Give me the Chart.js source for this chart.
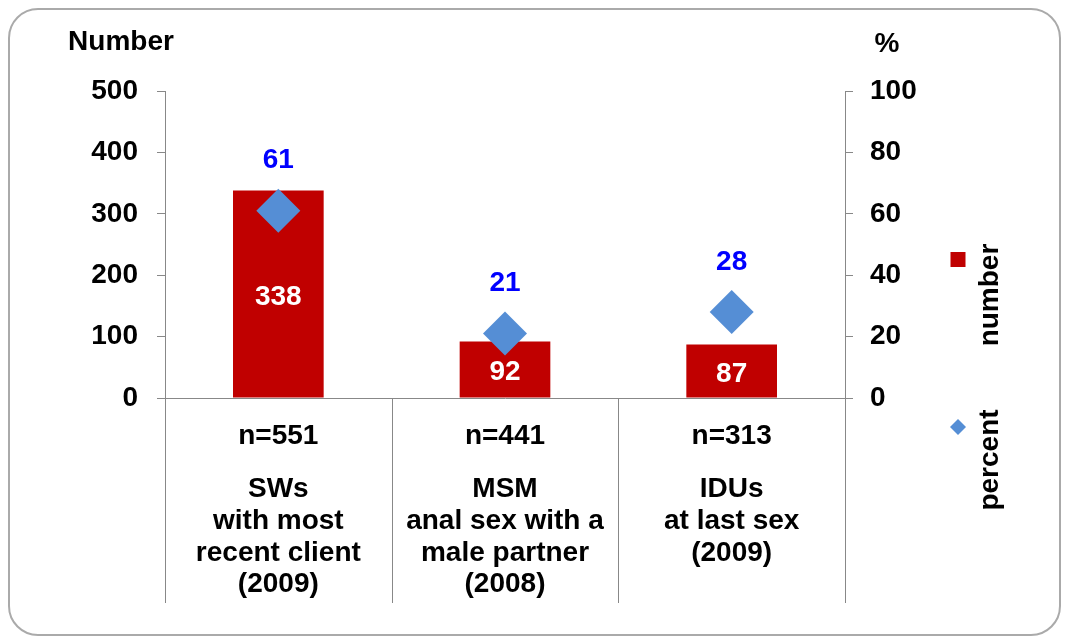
<!DOCTYPE html>
<html lang="en">
<head>
    <meta charset="UTF-8">
    <title>Number and percent</title>
    <script src="https://cdn.jsdelivr.net/npm/chart.js"></script>
    <style>
        body { margin: 0; background: #fff; }
        #wrap { position: relative; width: 1067px; height: 637px; }
        #frame {
            position: absolute; left: 8px; top: 8px; width: 1049px; height: 624px;
            border: 2px solid #aaaaaa; border-radius: 30px; pointer-events: none;
        }
    </style>
</head>
<body>
<div id="wrap">
    <canvas id="chart" width="1067" height="637"></canvas>
    <div id="frame"></div>
</div>

<script>
    // données
    const sampleSizes = ['n=551', 'n=441', 'n=313'];
    const groupLabels = [
        ['SWs', 'with most', 'recent client', '(2009)'],
        ['MSM', 'anal sex with a', 'male partner', '(2008)'],
        ['IDUs', 'at last sex', '(2009)']
    ];
    const numbers = [338, 92, 87];
    const percents = [61, 21, 28];

    const FONT = '"Liberation Sans", Arial, sans-serif';
    const boldFont = { family: FONT, size: 28, weight: 'bold' };
    const gray = '#888888';

    // étiquettes de valeurs (blanc dans les barres, bleu au-dessus des losanges)
    const valueLabels = {
        id: 'valueLabels',
        afterDatasetsDraw(chart) {
            const ctx = chart.ctx;
            ctx.save();
            ctx.font = 'bold 28px ' + FONT;
            ctx.textAlign = 'center';
            ctx.textBaseline = 'middle';
            chart.getDatasetMeta(1).data.forEach((bar, i) => {
                ctx.fillStyle = '#ffffff';
                ctx.fillText(numbers[i], bar.x, (bar.y + bar.base) / 2 + 3);
            });
            chart.getDatasetMeta(0).data.forEach((pt, i) => {
                ctx.fillStyle = '#0000ff';
                ctx.fillText(percents[i], pt.x, pt.y - 50);
            });
            ctx.restore();
        }
    };

    // titres d'axes, séparateurs de catégories et légende verticale
    const decorations = {
        id: 'decorations',
        afterDraw(chart) {
            const ctx = chart.ctx;
            const area = chart.chartArea;
            const x = chart.scales.x;
            ctx.save();

            // lignes verticales entre les catégories
            const edges = [area.left];
            for (let i = 0; i < numbers.length - 1; i++) {
                edges.push((x.getPixelForValue(i) + x.getPixelForValue(i + 1)) / 2);
            }
            edges.push(area.right);
            ctx.strokeStyle = gray;
            ctx.lineWidth = 1;
            edges.forEach(px => {
                const xx = Math.round(px) + 0.5;
                ctx.beginPath();
                ctx.moveTo(xx, area.bottom);
                ctx.lineTo(xx, area.bottom + 205);
                ctx.stroke();
            });

            // titres
            ctx.fillStyle = '#000';
            ctx.font = 'bold 28px ' + FONT;
            ctx.textAlign = 'center';
            ctx.textBaseline = 'middle';
            ctx.fillText('Number', area.left - 44, area.top - 49);
            ctx.fillText('%', area.right + 42, area.top - 47);

            // légende
            const lx = 958;
            ctx.fillStyle = chart.data.datasets[1].backgroundColor;
            ctx.fillRect(lx - 7.5, 252, 15, 15);
            ctx.fillStyle = chart.data.datasets[0].backgroundColor;
            ctx.beginPath();
            ctx.moveTo(lx, 419);
            ctx.lineTo(lx + 8, 427);
            ctx.lineTo(lx, 435);
            ctx.lineTo(lx - 8, 427);
            ctx.closePath();
            ctx.fill();

            ctx.fillStyle = '#000';
            [['number', 295], ['percent', 460]].forEach(([txt, cy]) => {
                ctx.save();
                ctx.translate(990, cy);
                ctx.rotate(-Math.PI / 2);
                ctx.fillText(txt, 0, 0);
                ctx.restore();
            });
            ctx.restore();
        }
    };

    const ctx = document.getElementById('chart').getContext('2d');
    new Chart(ctx, {
        data: {
            labels: sampleSizes,
            datasets: [
                {
                    type: 'line',
                    label: 'percent',
                    data: percents,
                    yAxisID: 'y1',
                    showLine: false,
                    pointStyle: 'rectRot',
                    pointRadius: 22,
                    pointHoverRadius: 22,
                    pointBorderWidth: 0,
                    backgroundColor: '#558ed5',
                    borderColor: '#558ed5',
                    order: 0
                },
                {
                    type: 'bar',
                    label: 'number',
                    data: numbers,
                    yAxisID: 'y',
                    backgroundColor: '#c00000',
                    categoryPercentage: 1,
                    barPercentage: 0.4,
                    order: 1
                }
            ]
        },
        options: {
            responsive: false,
            animation: false,
            layout: { padding: { top: 91, left: 0, right: 0, bottom: 0 } },
            plugins: {
                legend: { display: false },
                tooltip: { enabled: false }
            },
            scales: {
                x: {
                    type: 'category',
                    position: 'bottom',
                    offset: true,
                    weight: 0,
                    grid: { display: false },
                    border: { display: true, color: gray, width: 1 },
                    ticks: {
                        color: '#000', font: boldFont, padding: 13,
                        maxRotation: 0, autoSkip: false
                    },
                    afterFit: s => { s.height = 55; }
                },
                x2: {
                    type: 'category',
                    position: 'bottom',
                    labels: groupLabels,
                    offset: true,
                    weight: 1,
                    grid: { display: false },
                    border: { display: false },
                    ticks: {
                        color: '#000', font: { ...boldFont, lineHeight: 1.14 }, padding: 12,
                        maxRotation: 0, autoSkip: false
                    },
                    afterFit: s => { s.height = 184; }
                },
                y: {
                    position: 'left',
                    min: 0,
                    max: 500,
                    ticks: { stepSize: 100, color: '#000', font: boldFont, padding: 19 },
                    grid: { drawOnChartArea: false, drawTicks: true, tickLength: 8, color: gray },
                    border: { display: true, color: gray, width: 1 },
                    afterFit: s => { s.width = 165; }
                },
                y1: {
                    position: 'right',
                    min: 0,
                    max: 100,
                    ticks: { stepSize: 20, color: '#000', font: boldFont, padding: 17 },
                    grid: { drawOnChartArea: false, drawTicks: true, tickLength: 8, color: gray },
                    border: { display: true, color: gray, width: 1 },
                    afterFit: s => { s.width = 222; }
                }
            }
        },
        plugins: [valueLabels, decorations]
    });
</script>
</body>
</html>
